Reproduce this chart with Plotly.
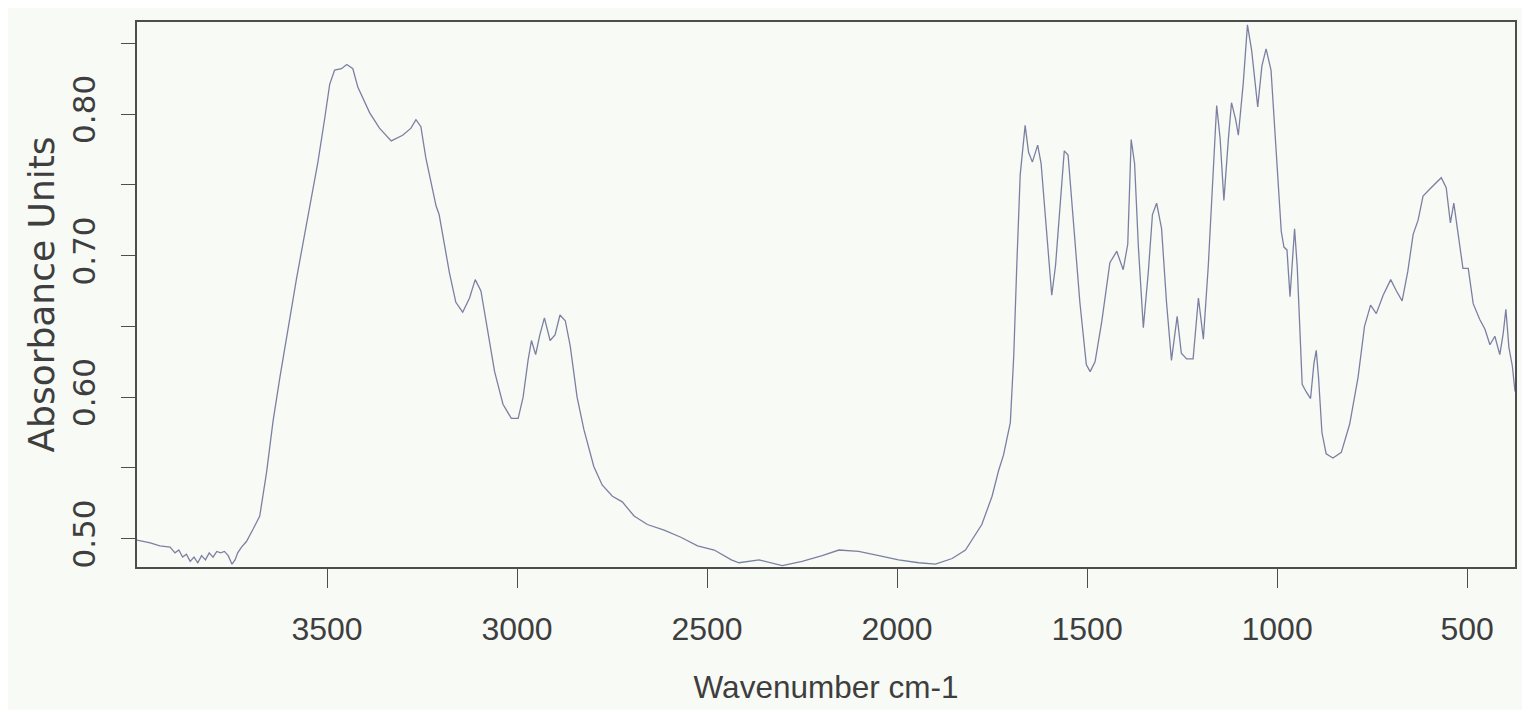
import plotly.graph_objects as go

# Wavenumber (cm-1) and absorbance values
wavenumber = [
    4000, 3965, 3940, 3913, 3900, 3890, 3880, 3870, 3860, 3850, 3840, 3830,
    3820, 3810, 3800, 3790, 3780, 3770, 3760, 3750, 3742, 3735, 3725, 3712,
    3694, 3677, 3659, 3642, 3624, 3602, 3580, 3563, 3545, 3524, 3506, 3493,
    3480, 3462, 3448, 3432, 3419, 3388, 3362, 3331, 3301, 3279, 3266, 3253,
    3240, 3213, 3205, 3178, 3161, 3143, 3125, 3110, 3095, 3077, 3059, 3037,
    3015, 2997, 2984, 2971, 2962, 2951, 2940, 2928, 2913, 2900, 2887, 2873,
    2860, 2842, 2824, 2798, 2776, 2749, 2723, 2692, 2657, 2613, 2569, 2525,
    2481, 2436, 2416, 2363, 2302, 2250, 2197, 2153, 2101, 2048, 1996, 1943,
    1899, 1855, 1820, 1777, 1750, 1733, 1720, 1702, 1693, 1685, 1676, 1663,
    1654, 1644, 1630, 1621, 1603, 1593, 1583, 1571, 1560, 1550, 1537, 1519,
    1502, 1492, 1479, 1461, 1440, 1422, 1405, 1393, 1384, 1375, 1365, 1352,
    1339, 1328, 1317, 1304, 1291, 1278, 1263, 1252, 1238, 1221, 1207, 1194,
    1181, 1168, 1159, 1150, 1140, 1128, 1120, 1109, 1102, 1089, 1078, 1067,
    1051, 1040, 1029, 1016, 1007, 998, 989, 982, 974, 966, 960, 954,
    947, 941, 934, 924, 912, 903, 897, 891, 882, 871, 853, 831,
    809, 787, 770, 754, 739, 721, 701, 686, 671, 656, 642, 629,
    616, 598, 580, 568, 555, 544, 535, 524, 511, 497, 484, 467,
    453, 440, 427, 414, 405, 398, 390, 381, 374,
]

absorbance = [
    0.499, 0.497, 0.495, 0.494, 0.490, 0.492, 0.487, 0.489, 0.484, 0.487, 0.483, 0.488,
    0.485, 0.490, 0.487, 0.491, 0.490, 0.491, 0.488, 0.482, 0.485, 0.490, 0.494, 0.498,
    0.507, 0.516, 0.547, 0.583, 0.614, 0.650, 0.684, 0.709, 0.735, 0.766, 0.797, 0.821,
    0.831, 0.832, 0.835, 0.832, 0.819, 0.801, 0.790, 0.781, 0.785, 0.790, 0.796, 0.791,
    0.769, 0.735, 0.729, 0.688, 0.667, 0.660, 0.670, 0.683, 0.675, 0.647, 0.618, 0.595,
    0.585, 0.585, 0.600, 0.626, 0.640, 0.630, 0.644, 0.656, 0.640, 0.644, 0.658, 0.654,
    0.636, 0.600, 0.577, 0.551, 0.538, 0.530, 0.526, 0.516, 0.510, 0.506, 0.501, 0.495,
    0.492, 0.485, 0.483, 0.485, 0.481, 0.484, 0.488, 0.492, 0.491, 0.488, 0.485, 0.483,
    0.482, 0.486, 0.492, 0.510, 0.530, 0.548, 0.559, 0.582, 0.629, 0.693, 0.757, 0.792,
    0.773, 0.766, 0.778, 0.765, 0.706, 0.672, 0.693, 0.739, 0.774, 0.771, 0.729, 0.667,
    0.623, 0.618, 0.625, 0.654, 0.695, 0.703, 0.690, 0.708, 0.782, 0.765, 0.706, 0.649,
    0.688, 0.729, 0.737, 0.719, 0.667, 0.626, 0.657, 0.631, 0.627, 0.627, 0.670, 0.641,
    0.693, 0.757, 0.806, 0.783, 0.739, 0.783, 0.808, 0.796, 0.785, 0.822, 0.863, 0.845,
    0.805, 0.834, 0.846, 0.831, 0.795, 0.756, 0.717, 0.706, 0.704, 0.671, 0.694, 0.719,
    0.692, 0.653, 0.609, 0.604, 0.599, 0.624, 0.633, 0.614, 0.575, 0.560, 0.557, 0.561,
    0.581, 0.614, 0.650, 0.665, 0.659, 0.672, 0.683, 0.675, 0.668, 0.689, 0.715, 0.725,
    0.742, 0.747, 0.752, 0.755, 0.748, 0.723, 0.737, 0.717, 0.691, 0.691, 0.666, 0.655,
    0.648, 0.637, 0.643, 0.630, 0.645, 0.662, 0.635, 0.622, 0.604,
]

x_ticks = [3500, 3000, 2500, 2000, 1500, 1000, 500]
y_ticks = [0.50, 0.55, 0.60, 0.65, 0.70, 0.75, 0.80, 0.85]
y_tick_text = ["0.50", "", "0.60", "", "0.70", "", "0.80", ""]

XFONT = "Liberation Sans, Arial, sans-serif"
YFONT = "DejaVu Sans, Verdana, sans-serif"
TEXT = "#3e3e3e"
BG = "#f8faf6"
AXIS = "#4d4d4d"

fig = go.Figure(
    go.Scatter(
        x=wavenumber,
        y=absorbance,
        mode="lines",
        line=dict(color="#7b80a2", width=1.3),
        showlegend=False,
        hoverinfo="x+y",
    )
)

fig.update_layout(
    width=1514,
    height=702,
    paper_bgcolor=BG,
    plot_bgcolor=BG,
    margin=dict(l=129, r=5, t=14, b=143),
    font=dict(family=XFONT, color=TEXT),
    xaxis=dict(
        range=[4000, 374],
        tickvals=x_ticks,
        ticktext=[str(v) for v in x_ticks],
        ticks="outside",
        ticklen=19,
        tickwidth=1.3,
        tickcolor=AXIS,
        tickfont=dict(size=32, family=XFONT, color=TEXT),
        ticklabelstandoff=14,
        showgrid=False,
        zeroline=False,
        showline=True,
        linecolor=AXIS,
        linewidth=1.8,
        mirror=True,
        title=dict(text="Wavenumber cm-1", font=dict(size=31.5, family=XFONT, color=TEXT), standoff=30),
    ),
    yaxis=dict(
        range=[0.480, 0.865],
        tickvals=y_ticks,
        ticktext=y_tick_text,
        tickangle=-90,
        ticks="outside",
        ticklen=14,
        tickwidth=1.3,
        tickcolor=AXIS,
        tickfont=dict(size=31, family=YFONT, color=TEXT),
        ticklabelstandoff=14,
        showgrid=False,
        zeroline=False,
        showline=True,
        linecolor=AXIS,
        linewidth=1.8,
        mirror=True,
        title=dict(text="Absorbance Units", font=dict(size=36, family=YFONT, color=TEXT), standoff=0),
    ),
)

fig.write_html("out.html")
